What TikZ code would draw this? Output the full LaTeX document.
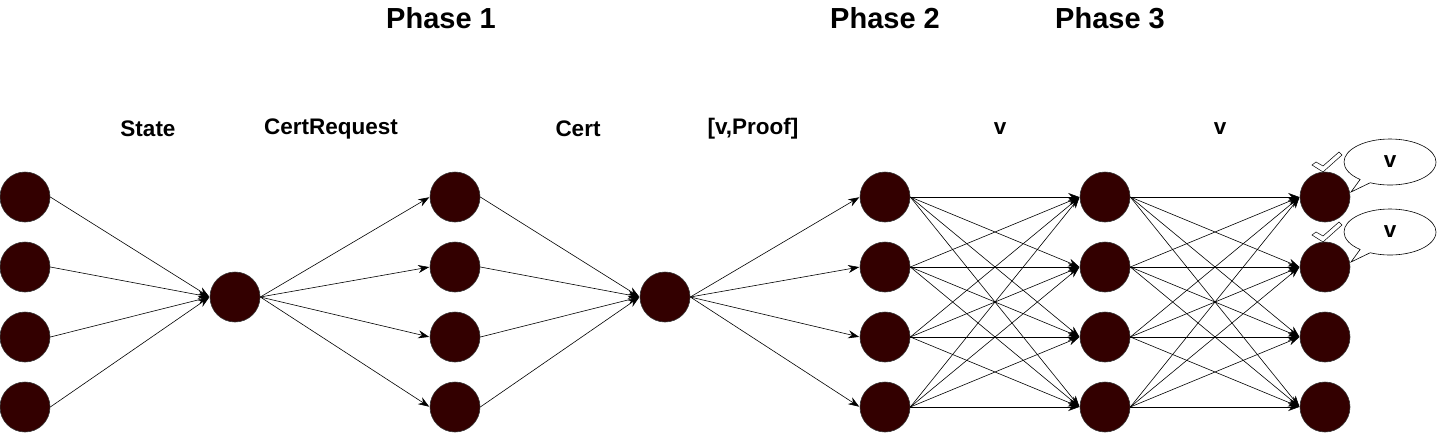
\documentclass[tikz,border=0pt]{standalone}
\usepackage{fontspec}
\setmainfont{Liberation Sans}
\usetikzlibrary{calc,shapes.callouts,arrows.meta}
\definecolor{bloodred}{HTML}{330000}

\tikzset{
  peer/.style={circle, draw=black!80, fill=bloodred, line width=0.6pt, minimum size=50pt, inner sep=0pt},
  msg/.style={-{Stealth[length=11pt,width=8pt]}, line width=0.6pt, shorten >=0.5pt},
  phase/.style={font=\fontsize{29}{32}\selectfont\bfseries},
  lbl/.style={font=\fontsize{22.5}{26}\selectfont\bfseries},
  bubble/.style={ellipse callout, draw, fill=white, line width=0.6pt, minimum width=92pt, minimum height=46pt, inner sep=0pt, font=\fontsize{22.5}{26}\selectfont\bfseries}
}

\begin{document}
\begin{tikzpicture}[x=1pt, y=-1pt]
  \useasboundingbox (0,0) rectangle (1443,434);

  \node[phase] (ph1) at (441,18) {Phase 1};
  \node[phase] (ph2) at (885,18) {Phase 2};
  \node[phase] (ph3) at (1110,18) {Phase 3};

  \node[lbl] (l1) at (148,129) {State};
  \node[lbl] (l2) at (331,129) {CertRequest};
  \node[lbl] (l3) at (578,129) {Cert};
  \node[lbl] (l4) at (753,129) {[v,Proof]};
  \node[lbl] (l5) at (1000,129) {v};
  \node[lbl] (l6) at (1220,129) {v};

  % columns of peers
  \foreach \i/\y in {1/197,2/267,3/337,4/407} {
    \node[peer] (s\i) at (25,\y) {};
    \node[peer] (r\i) at (455,\y) {};
    \node[peer] (p\i) at (885,\y) {};
    \node[peer] (q\i) at (1105,\y) {};
    \node[peer] (f\i) at (1325,\y) {};
  }
  \node[peer] (hubA) at (235,297) {};
  \node[peer] (hubB) at (665,297) {};

  \foreach \i in {1,...,4} {
    \draw[msg] (s\i.east) -- (hubA.west);
    \draw[msg] (hubA.east) -- (r\i.west);
    \draw[msg] (r\i.east) -- (hubB.west);
    \draw[msg] (hubB.east) -- (p\i.west);
  }
  \foreach \i in {1,...,4} {
    \foreach \j in {1,...,4} {
      \draw[msg] (p\i.east) -- (q\j.west);
      \draw[msg] (q\i.east) -- (f\j.west);
    }
  }

  % ticks and replies
  \foreach \i in {1,2} {
    \draw[fill=white, line width=0.5pt] ($(f\i)+(-13,-32)$) -- ++(4,-3) -- ++(7,4) -- ++(16,-14)
      -- ++(3,3) -- ++(-19,17) -- cycle;
    \node[bubble, callout absolute pointer={($(f\i)+(26,-5)$)}] (b\i) at ($(f\i)+(65,-35)$) {v};
  }
\end{tikzpicture}
\end{document}
